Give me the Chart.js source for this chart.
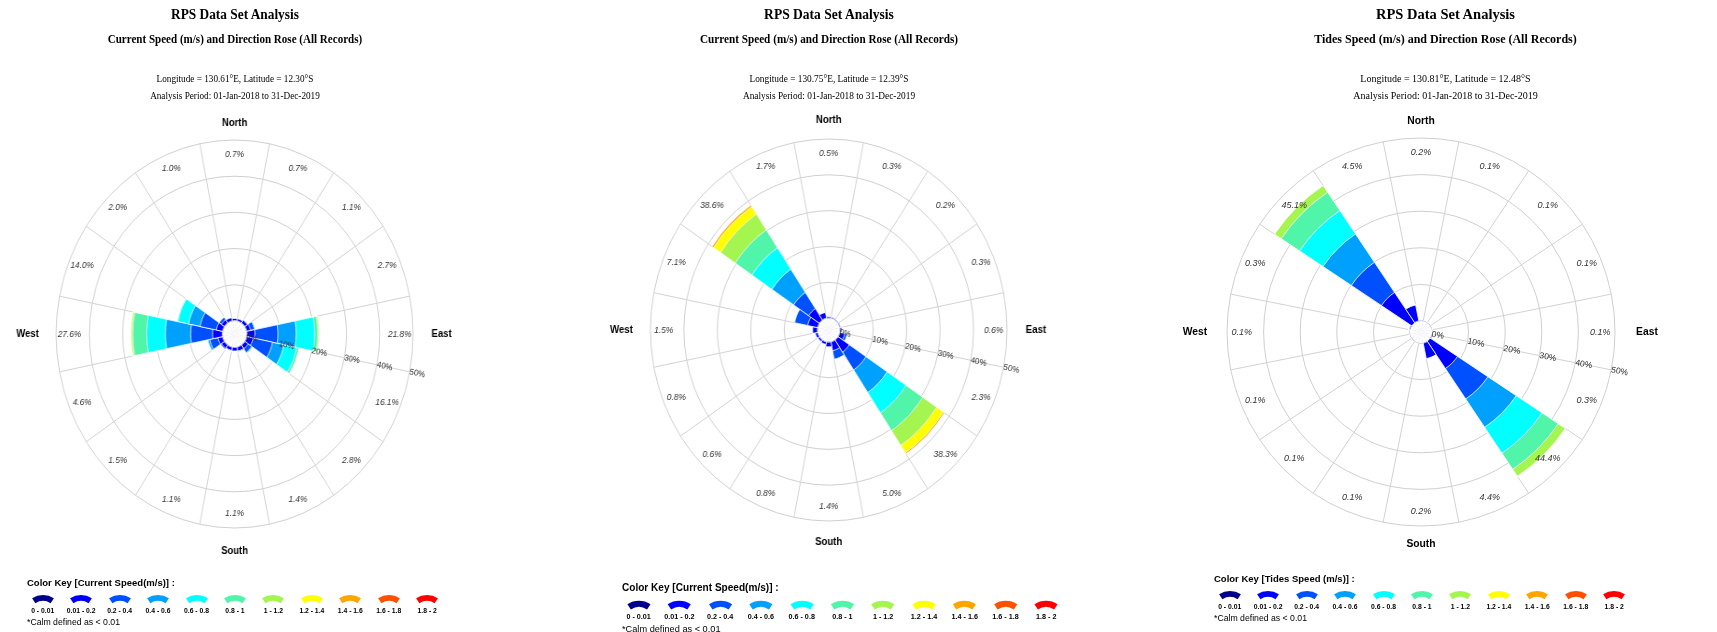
<!DOCTYPE html>
<html>
<head>
<meta charset="utf-8">
<script src="https://cdn.jsdelivr.net/npm/chart.js@4.4.0/dist/chart.umd.min.js"></script>
<style>
  html,body{margin:0;padding:0;background:#fff;}
  body{width:1717px;height:632px;overflow:hidden;position:relative;font-family:"Liberation Sans",Arial,sans-serif;}
  .panel{position:absolute;top:0;height:632px;transform-origin:0 0;}
  .panel canvas{position:absolute;left:0;top:0;}
  .t{position:absolute;white-space:nowrap;transform:translate(-50%,-50%);font-family:"Liberation Serif","Times New Roman",serif;color:#000;line-height:1;}
  .t1{font-size:14.5px;font-weight:bold;}
  .t2{font-size:12px;font-weight:bold;}
  .t3{font-size:10px;}
  .keybox{position:absolute;left:0;top:0;width:0;height:0;transform-origin:0 0;}
  .k{position:absolute;white-space:nowrap;color:#000;line-height:1;font-family:"Liberation Sans",Arial,sans-serif;}
  .ktitle{font-size:9.5px;font-weight:bold;transform:translateY(-50%);}
  .klab{font-size:6.8px;font-weight:bold;transform:translate(-50%,-50%);}
  .kcalm{font-size:8.7px;transform:translateY(-50%);}
  .sw{position:absolute;}
</style>
</head>
<body>
<script>
// ---------------- data ----------------
const directions = ['N','NNE','NE','ENE','E','ESE','SE','SSE','S','SSW','SW','WSW','W','WNW','NW','NNW'];
const compassLabels = ['North','East','South','West'];
const speedBins = ['0 - 0.01','0.01 - 0.2','0.2 - 0.4','0.4 - 0.6','0.6 - 0.8','0.8 - 1','1 - 1.2','1.2 - 1.4','1.4 - 1.6','1.6 - 1.8','1.8 - 2'];
const radialTicks = [0, 10, 20, 30, 40, 50];

const mainTitle = 'RPS Data Set Analysis';
const roseTitles = [
  'Current Speed (m/s) and Direction Rose (All Records)',
  'Current Speed (m/s) and Direction Rose (All Records)',
  'Tides Speed (m/s) and Direction Rose (All Records)'
];
const locations = [
  'Longitude = 130.61°E, Latitude = 12.30°S',
  'Longitude = 130.75°E, Latitude = 12.39°S',
  'Longitude = 130.81°E, Latitude = 12.48°S'
];
const periodText = 'Analysis Period: 01-Jan-2018 to 31-Dec-2019';
const keyTitles = ['Color Key [Current Speed(m/s)] :', 'Color Key [Current Speed(m/s)] :', 'Color Key [Tides Speed (m/s)] :'];
const calmNote = '*Calm defined as < 0.01';

// % of records per direction (rows N..NNW) and speed bin (columns as speedBins)
const rose1Freq = [
  [0.1,0.6,0,0,0,0,0,0,0,0,0],
  [0.1,0.6,0,0,0,0,0,0,0,0,0],
  [0.1,0.9,0.1,0,0,0,0,0,0,0,0],
  [0.1,1.2,1.2,0.2,0,0,0,0,0,0,0],
  [0.1,2.4,6.9,5.5,5.5,1.0,0.4,0,0,0,0],
  [0.1,2.0,5.9,3.5,3.9,0.7,0,0,0,0,0],
  [0.1,1.2,1.3,0.2,0,0,0,0,0,0,0],
  [0.1,1.1,0.2,0,0,0,0,0,0,0,0],
  [0.1,1.0,0,0,0,0,0,0,0,0,0],
  [0.1,0.9,0.1,0,0,0,0,0,0,0,0],
  [0.1,1.1,0.3,0,0,0,0,0,0,0,0],
  [0.1,1.4,2.5,0.6,0,0,0,0,0,0,0],
  [0.1,2.9,6.6,7.6,5.6,4.2,0.5,0.1,0,0,0],
  [0.1,1.9,5.0,3.5,3.3,0.2,0,0,0,0,0],
  [0.1,1.1,0.8,0,0,0,0,0,0,0,0],
  [0.1,0.9,0,0,0,0,0,0,0,0,0]
];
const rose2Freq = [
  [0.1,0.4,0,0,0,0,0,0,0,0,0],
  [0.1,0.2,0,0,0,0,0,0,0,0,0],
  [0.1,0.1,0,0,0,0,0,0,0,0,0],
  [0.1,0.2,0,0,0,0,0,0,0,0,0],
  [0.1,0.5,0,0,0,0,0,0,0,0,0],
  [0.1,1.5,0.7,0,0,0,0,0,0,0,0],
  [0.1,4.0,6.0,7.6,6.8,6.0,5.0,2.4,0.4,0,0],
  [0.1,2.5,2.4,0,0,0,0,0,0,0,0],
  [0.1,1.3,0,0,0,0,0,0,0,0,0],
  [0.1,0.7,0,0,0,0,0,0,0,0,0],
  [0.1,0.5,0,0,0,0,0,0,0,0,0],
  [0.1,0.7,0,0,0,0,0,0,0,0,0],
  [0.1,1.4,0,0,0,0,0,0,0,0,0],
  [0.1,3.0,4.0,0,0,0,0,0,0,0,0],
  [0.1,3.8,5.4,7.8,7.2,6.0,5.3,2.5,0.5,0,0],
  [0.1,1.6,0,0,0,0,0,0,0,0,0]
];
const rose3Freq = [
  [0.1,0.1,0,0,0,0,0,0,0,0,0],
  [0.05,0.05,0,0,0,0,0,0,0,0,0],
  [0.05,0.05,0,0,0,0,0,0,0,0,0],
  [0.05,0.05,0,0,0,0,0,0,0,0,0],
  [0.05,0.05,0,0,0,0,0,0,0,0,0],
  [0.1,0.2,0,0,0,0,0,0,0,0,0],
  [0,9.0,10.0,9.3,8.5,5.3,2.3,0,0,0,0],
  [0.1,4.3,0,0,0,0,0,0,0,0,0],
  [0.1,0.1,0,0,0,0,0,0,0,0,0],
  [0.05,0.05,0,0,0,0,0,0,0,0,0],
  [0.05,0.05,0,0,0,0,0,0,0,0,0],
  [0.05,0.05,0,0,0,0,0,0,0,0,0],
  [0.05,0.05,0,0,0,0,0,0,0,0,0],
  [0.1,0.2,0,0,0,0,0,0,0,0,0],
  [0,10.0,9.9,9.3,7.7,6.0,2.2,0,0,0,0],
  [0.1,4.4,0,0,0,0,0,0,0,0,0]
];
const roseData = [rose1Freq, rose2Freq, rose3Freq];

// ---------------- styles / layout ----------------
const binColors = ['#00008C','#0000FF','#0050FF','#00A0FF','#00FFFF','#50F5AA','#A5F550','#FFFF00','#FFA500','#FF5000','#FF0000'];
const layouts = [
  {left:0,    sx:0.92,   width:622, cx:255.4, cy:334,   R:194, rMin:-3.6, titleDx:0,  nGap:17, sGap:23, ewGap:31,
   key:{x:27,  y:583, scale:1.0}},
  {left:572,  sx:0.9335, width:613, cx:275.3, cy:330.5, R:191, rMin:-3.3, titleDx:0,  nGap:19, sGap:21, ewGap:31,
   key:{x:622, y:588, scale:1.06}},
  {left:1144, sx:1.0,    width:573, cx:277.5, cy:332.5, R:194, rMin:-3.0, titleDx:24, nGap:17, sGap:18, ewGap:32,
   key:{x:1214,y:579, scale:1.0}}
];
// key geometry relative to key title (unscaled)
const keyGeom = {sx0:15.7, step:38.45, sy:15.5, ly:28, cy:38.5};

const SANS = '"Liberation Sans", Arial, sans-serif';

const roseText = {
  id: 'roseText',
  afterDraw(chart, args, o) {
    const ctx = chart.ctx, s = chart.scales.r;
    const xc = s.xCenter, yc = s.yCenter, R = s.drawingArea;
    const n = directions.length;
    ctx.save();
    ctx.font = 'italic 9px ' + SANS;
    ctx.fillStyle = '#333';
    ctx.textAlign = 'center';
    ctx.textBaseline = 'middle';
    const dLab = s.getDistanceFromCenterForValue(46);
    o.totals.forEach((t, i) => {
      const a = s.getIndexAngle(i) + Math.PI / n - Math.PI / 2;
      ctx.fillText(t.toFixed(1) + '%', xc + Math.cos(a) * dLab, yc + Math.sin(a) * dLab);
    });
    const spoke = s.getIndexAngle(5) - Math.PI / 2;
    ctx.font = '8.5px ' + SANS;
    ctx.textAlign = 'left';
    radialTicks.forEach(v => {
      const d = s.getDistanceFromCenterForValue(v);
      ctx.save();
      ctx.translate(xc + Math.cos(spoke) * d, yc + Math.sin(spoke) * d);
      ctx.rotate(spoke);
      ctx.fillText(v + '%', 0, 0);
      ctx.restore();
    });
    ctx.font = 'bold 10.3px ' + SANS;
    ctx.fillStyle = '#000';
    ctx.textAlign = 'center';
    ctx.fillText(compassLabels[0], xc, yc - R - o.nGap);
    ctx.fillText(compassLabels[1], xc + R + o.ewGap, yc);
    ctx.fillText(compassLabels[2], xc, yc + R + o.sGap);
    ctx.fillText(compassLabels[3], xc - R - o.ewGap, yc);
    ctx.restore();
  }
};

function buildDatasets(freq) {
  const ds = [{ label: 'calm', data: directions.map(() => 0), backgroundColor: '#ffffff', borderWidth: 0 }];
  const running = directions.map(() => 0);
  speedBins.forEach((b, k) => {
    directions.forEach((d, i) => { running[i] += freq[i][k]; });
    ds.push({
      label: b,
      data: running.map(v => Math.round(v * 1000) / 1000),
      backgroundColor: binColors[k],
      borderColor: '#ffffff',
      borderWidth: 0.8
    });
  });
  return ds;
}

function el(cls, text, x, y, parent) {
  const e = document.createElement('div');
  e.className = cls;
  e.textContent = text;
  e.style.left = x + 'px';
  e.style.top = y + 'px';
  parent.appendChild(e);
  return e;
}

function swatch(color, x, y, parent) {
  const ns = 'http://www.w3.org/2000/svg';
  const svg = document.createElementNS(ns, 'svg');
  svg.setAttribute('width', '26');
  svg.setAttribute('height', '12');
  svg.setAttribute('class', 'sw');
  svg.style.left = (x - 13) + 'px';
  svg.style.top = (y - 6) + 'px';
  const p = document.createElementNS(ns, 'path');
  p.setAttribute('d', 'M 2.11 5.23 A 20 20 0 0 1 23.89 5.23 L 20.62 10.26 A 14 14 0 0 0 5.38 10.26 Z');
  p.setAttribute('fill', color);
  svg.appendChild(p);
  parent.appendChild(svg);
}

layouts.forEach((L, idx) => {
  const panel = document.createElement('div');
  panel.className = 'panel';
  panel.style.left = L.left + 'px';
  panel.style.width = L.width + 'px';
  panel.style.transform = 'scaleX(' + L.sx + ')';
  document.body.appendChild(panel);

  const tx = L.cx + L.titleDx;
  el('t t1', mainTitle, tx, 14, panel);
  el('t t2', roseTitles[idx], tx, 39, panel);
  el('t t3', locations[idx], tx, 79, panel);
  el('t t3', periodText, tx, 96, panel);

  const cv = document.createElement('canvas');
  cv.width = L.width;
  cv.height = 632;
  cv.style.width = L.width + 'px';
  cv.style.height = '632px';
  panel.appendChild(cv);

  const freq = roseData[idx];
  const totals = freq.map(r => r.reduce((a, b) => a + b, 0));

  new Chart(cv.getContext('2d'), {
    type: 'polarArea',
    data: { labels: directions, datasets: buildDatasets(freq) },
    plugins: [roseText],
    options: {
      responsive: false,
      animation: false,
      devicePixelRatio: 1,
      layout: { padding: { left: L.cx - L.R, top: L.cy - L.R, right: L.width - L.cx - L.R, bottom: 632 - L.cy - L.R } },
      plugins: {
        legend: { display: false },
        tooltip: { enabled: false },
        roseText: { totals: totals, nGap: L.nGap, sGap: L.sGap, ewGap: L.ewGap }
      },
      scales: {
        r: {
          min: L.rMin,
          max: 50,
          startAngle: -11.25,
          ticks: { display: false, stepSize: 10 },
          grid: { circular: true, lineWidth: 1, color: c => (c.tick && c.tick.value < 0) ? 'rgba(0,0,0,0)' : '#cfcfcf' },
          angleLines: { display: true, color: '#d2d2d2', lineWidth: 1 },
          pointLabels: { display: false }
        }
      }
    }
  });

  // colour key
  const K = L.key;
  const box = document.createElement('div');
  box.className = 'keybox';
  box.style.left = K.x + 'px';
  box.style.top = K.y + 'px';
  box.style.transform = 'scale(' + K.scale + ')';
  document.body.appendChild(box);
  el('k ktitle', keyTitles[idx], 0, 0, box);
  speedBins.forEach((b, k) => {
    const x = keyGeom.sx0 + k * keyGeom.step;
    swatch(binColors[k], x, keyGeom.sy, box);
    el('k klab', b, x, keyGeom.ly, box);
  });
  el('k kcalm', calmNote, 0, keyGeom.cy, box);
});
</script>
</body>
</html>
